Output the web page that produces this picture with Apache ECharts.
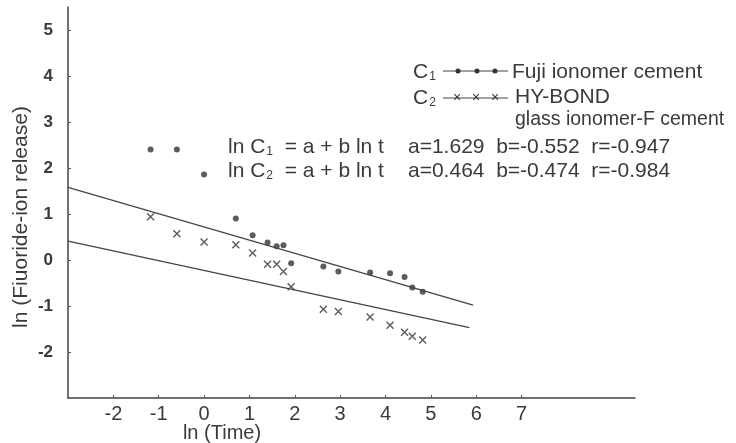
<!DOCTYPE html>
<html>
<head>
<meta charset="utf-8">
<script src="https://cdn.jsdelivr.net/npm/echarts@6/dist/echarts.min.js"></script>
<style>
  html, body { margin: 0; padding: 0; background: #fff; }
  #chart { width: 736px; height: 443px; }
</style>
</head>
<body>
<div id="chart"></div>
<script>
// values (ln of time, ln of fluoride release)
const lnTime = [-1.18, -0.6, 0.0, 0.7, 1.07, 1.4, 1.6, 1.75, 1.92, 2.63, 2.96, 3.66, 4.1, 4.42, 4.59, 4.82];
const fujiC1 = [2.40, 2.40, 1.86, 0.90, 0.54, 0.38, 0.30, 0.32, -0.07, -0.14, -0.25, -0.27, -0.29, -0.37, -0.60, -0.69];
const hyBondC2 = [0.94, 0.57, 0.39, 0.33, 0.15, -0.09, -0.09, -0.25, -0.58, -1.07, -1.12, -1.24, -1.42, -1.57, -1.66, -1.74];

// regression lines as drawn
const fitX1 = [-3, 5.93];
const fitY1 = [1.58, -0.98];
const fitX2 = [-3, 5.85];
const fitY2 = [0.41, -1.47];

const xTicks = [-2, -1, 0, 1, 2, 3, 4, 5, 6, 7];
const yTicks = [-2, -1, 0, 1, 2, 3, 4, 5];

const ink = "#3a3a3a";
const font = "'Liberation Sans', Arial, sans-serif";
const narrow = "'Liberation Sans Narrow', 'Arial Narrow', 'Liberation Sans', sans-serif";

function zip(xs, ys) {
  return xs.map((x, i) => [x, ys[i]]);
}

const rich = {
  m: { fontSize: 21, fontFamily: font, color: ink, lineHeight: 23, verticalAlign: "bottom" },
  s: { fontSize: 12, fontFamily: font, color: ink, lineHeight: 23, verticalAlign: "bottom", padding: [0, 0, 0, 1] },
};

function label(x, y, text, size) {
  return {
    type: "text",
    x: x,
    y: y,
    style: { text: text, fill: ink, font: (size || 21) + "px " + font, textVerticalAlign: "middle", rich: rich },
  };
}

function cross(x, y) {
  return {
    type: "text",
    x: x,
    y: y,
    style: { text: "×", fill: "#333", font: "14px " + font, textAlign: "center", textVerticalAlign: "middle" },
  };
}

let chart = echarts.init(document.getElementById("chart"));
chart.setOption({
  backgroundColor: "#fff",
  animation: false,
  grid: { left: 68, right: 101, top: 7, bottom: 45 },
  xAxis: {
    type: "value",
    min: -3,
    max: 9.5,
    axisLine: { onZero: false, lineStyle: { color: "#444", width: 1.5 } },
    axisTick: { show: true, inside: true, length: 3, customValues: xTicks, lineStyle: { color: "#555" } },
    axisLabel: { customValues: xTicks, fontFamily: narrow, fontSize: 20, color: ink, margin: 6 },
    splitLine: { show: false },
  },
  yAxis: {
    type: "value",
    min: -3,
    max: 5.5,
    axisLine: { show: true, onZero: false, lineStyle: { color: "#444", width: 1.5 } },
    axisTick: { show: true, inside: true, length: 3, customValues: yTicks, lineStyle: { color: "#555" } },
    axisLabel: { customValues: yTicks, fontFamily: font, fontWeight: "bold", fontSize: 17, color: ink, margin: 15 },
    splitLine: { show: false },
  },
  series: [
    {
      type: "line",
      data: zip(fitX1, fitY1),
      showSymbol: false,
      silent: true,
      lineStyle: { color: "#444", width: 1.3 },
    },
    {
      type: "line",
      data: zip(fitX2, fitY2),
      showSymbol: false,
      silent: true,
      lineStyle: { color: "#444", width: 1.3 },
    },
    {
      name: "Fuji ionomer cement",
      type: "scatter",
      data: zip(lnTime, fujiC1),
      symbol: "circle",
      symbolSize: 6,
      itemStyle: { color: "#333" },
    },
    {
      name: "HY-BOND glass ionomer-F cement",
      type: "scatter",
      data: zip(lnTime, hyBondC2),
      symbol: "path://M0,0L10,10M10,0L0,10",
      symbolSize: 7,
      itemStyle: { color: "none", borderColor: "#333", borderWidth: 1.4 },
    },
  ],
  graphic: [
    // legend
    label(413, 71, "{m|C}{s|1}"),
    { type: "line", shape: { x1: 443, y1: 71, x2: 508, y2: 71 }, style: { stroke: "#444", lineWidth: 1.2 } },
    { type: "circle", shape: { cx: 458, cy: 71, r: 2.5 }, style: { fill: "#333" } },
    { type: "circle", shape: { cx: 477, cy: 71, r: 2.5 }, style: { fill: "#333" } },
    { type: "circle", shape: { cx: 495, cy: 71, r: 2.5 }, style: { fill: "#333" } },
    label(512, 72, "Fuji ionomer cement"),
    label(413, 97, "{m|C}{s|2}"),
    { type: "line", shape: { x1: 443, y1: 98, x2: 508, y2: 98 }, style: { stroke: "#444", lineWidth: 1.2 } },
    cross(457, 98),
    cross(476, 98),
    cross(495, 98),
    label(515, 97, "HY-BOND"),
    label(515, 120, "glass ionomer-F cement", 19.5),
    // regression equations
    label(228, 146, "{m|ln C}{s|1}{m|  = a + b ln t}"),
    label(408, 147, "a=1.629  b=-0.552  r=-0.947"),
    label(228, 170, "{m|ln C}{s|2}{m|  = a + b ln t}"),
    label(408, 171, "a=0.464  b=-0.474  r=-0.984"),
    // axis titles
    {
      type: "text",
      x: 21,
      y: 217,
      rotation: Math.PI / 2,
      style: { text: "ln (Fiuoride-ion release)", fill: ink, font: "21px " + font, textAlign: "center", textVerticalAlign: "middle" },
    },
    {
      type: "text",
      x: 222,
      y: 433,
      style: { text: "ln (Time)", fill: ink, font: "20px " + narrow, textAlign: "center", textVerticalAlign: "middle" },
    },
  ],
});

window.addEventListener("resize", function () {
  chart.resize();
});
</script>
</body>
</html>
